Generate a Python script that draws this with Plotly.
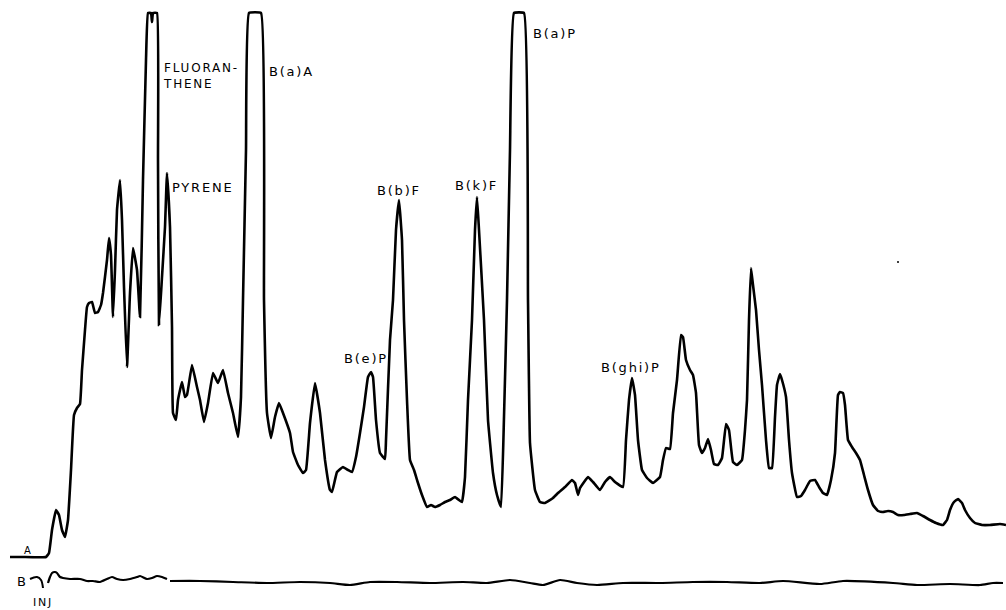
import plotly.graph_objects as go

# Trace A: retention position (arbitrary units) and detector response
time_a = [10, 22, 46, 49, 52, 56, 59, 62, 65, 68, 71, 74, 77, 80, 82, 85, 87, 89, 92, 95,
          98, 101, 103, 107, 109, 111, 113, 115, 117, 120, 122, 124, 127, 130, 133, 137, 140, 143, 146, 148,
          151, 152, 153, 157, 158, 159, 162, 165, 167, 170, 172, 173, 176, 178, 182, 185, 187, 192, 197, 200,
          204, 208, 213, 218, 223, 228, 233, 238, 241, 243, 246, 249, 261, 264, 267, 271, 275, 279, 283, 290,
          293, 298, 303, 306, 310, 315, 320, 325, 330, 332, 337, 343, 348, 352, 356, 360, 364, 368, 371, 373,
          376, 380, 385, 386, 390, 393, 396, 399, 402, 404, 407, 410, 414, 418, 422, 427, 431, 435, 440, 445,
          450, 455, 459, 462, 465, 468, 472, 475, 477, 479, 484, 488, 493, 497, 501, 504, 507, 510, 514, 524,
          528, 530, 535, 540, 545, 553, 558, 565, 572, 575, 578, 580, 588, 593, 600, 605, 610, 615, 623, 626,
          629, 632, 635, 638, 642, 647, 653, 660, 663, 666, 670, 673, 677, 681, 683, 686, 690, 693, 696, 699,
          702, 705, 708, 711, 714, 718, 722, 726, 729, 733, 737, 742, 745, 747, 749, 751, 753, 756, 759, 762,
          766, 769, 772, 775, 777, 780, 782, 786, 789, 792, 797, 801, 805, 810, 815, 819, 823, 827, 831, 835,
          838, 840, 843, 845, 848, 852, 856, 860, 864, 868, 873, 878, 883, 888, 893, 898, 904, 910, 917, 923,
          930, 936, 943, 947, 950, 954, 958, 962, 965, 970, 975, 982, 990, 1000, 1006]
resp_a = [43, 43, 43, 47, 70, 90, 85, 70, 63, 80, 130, 185, 192, 196, 230, 270, 293, 297, 298, 287,
          288, 295, 307, 340, 362, 345, 283, 330, 390, 420, 380, 313, 233, 307, 352, 330, 283, 420, 540, 587,
          587, 578, 587, 587, 440, 275, 323, 373, 427, 373, 273, 187, 180, 200, 218, 203, 205, 235, 213, 200,
          178, 197, 227, 217, 230, 207, 187, 163, 203, 300, 450, 587, 587, 300, 187, 162, 183, 197, 187, 167,
          148, 135, 127, 130, 177, 217, 187, 140, 110, 108, 128, 133, 130, 128, 143, 167, 193, 223, 228, 223,
          180, 147, 141, 160, 260, 300, 370, 400, 360, 280, 200, 140, 130, 117, 105, 93, 95, 93, 95, 98,
          100, 103, 100, 98, 123, 200, 280, 370, 403, 370, 280, 180, 127, 105, 93, 183, 300, 450, 587, 587,
          300, 157, 110, 98, 97, 102, 107, 113, 120, 117, 105, 112, 123, 118, 110, 118, 123, 118, 113, 160,
          200, 222, 205, 160, 130, 122, 117, 123, 140, 152, 151, 187, 220, 265, 263, 240, 230, 225, 207, 155,
          147, 152, 161, 150, 136, 135, 142, 176, 170, 138, 135, 140, 170, 200, 280, 332, 315, 290, 250, 215,
          160, 132, 132, 183, 215, 226, 220, 203, 160, 127, 103, 104, 110, 119, 120, 113, 107, 105, 120, 147,
          205, 208, 207, 195, 160, 153, 147, 140, 125, 110, 95, 89, 88, 89, 88, 85, 85, 86, 87, 84,
          80, 77, 75, 80, 90, 98, 101, 97, 90, 82, 77, 75, 75, 76, 75]

# Trace B: blank run
time_b = [48, 50, 52, 55, 57, 60, 63, 70, 80, 87, 93, 100, 107, 112, 117, 123, 130, 137, 140, 147,
          152, 157, 162, 167, None, 170, 200, 233, 267, 300, 330, 350, 370, 397, 430, 463, 487, 510, 530, 543,
          560, 577, 597, 623, 660, 693, 727, 760, 783, 820, 843, 893, 917, 950, 980, 993, 1003]
resp_b = [17, 23, 27, 28, 27, 23, 22, 21, 21, 19, 19, 18, 21, 23, 21, 20, 21, 23, 24, 21,
          22, 24, 23, 21, None, 19, 19, 18, 17, 18, 17, 15, 18, 18, 17, 18, 17, 20, 17, 15,
          20, 17, 15, 17, 17, 18, 18, 17, 19, 16, 19, 17, 15, 16, 15, 17, 17]

# Injection hook marker
hook_t = [30, 37, 41, 43]
hook_r = [21, 23, 20, 12]

# Peak labels
labels = ["FLUORAN-<br>THENE", "B(a)A", "PYRENE", "B(e)P", "B(b)F", "B(k)F", "B(a)P", "B(ghi)P", "A", "B", "INJ"]
label_t = [161, 267, 170, 342, 375, 453, 531, 599, 22, 15, 31]
label_r = [524, 529, 413, 242, 410, 415, 567, 233, 50, 19, -2]
label_size = [12, 13, 13, 13, 13, 13, 13, 13, 10, 13, 11]

fig = go.Figure()
fig.add_trace(go.Scatter(x=time_a, y=resp_a, mode="lines",
                         line=dict(color="black", width=2.6, shape="spline", smoothing=0.3),
                         hoverinfo="skip"))
fig.add_trace(go.Scatter(x=time_b, y=resp_b, mode="lines", connectgaps=False,
                         line=dict(color="black", width=2.2, shape="spline", smoothing=0.6),
                         hoverinfo="skip"))
fig.add_trace(go.Scatter(x=hook_t, y=hook_r, mode="lines",
                         line=dict(color="black", width=2, shape="spline"), hoverinfo="skip"))
fig.add_trace(go.Scatter(x=[898], y=[338], mode="markers",
                         marker=dict(color="black", size=2), hoverinfo="skip"))

for txt, t, r, s in zip(labels, label_t, label_r, label_size):
    fig.add_annotation(x=t, y=r, xref="x", yref="y", text=txt, showarrow=False,
                       xanchor="left", yanchor="middle", align="left",
                       font=dict(family="DejaVu Sans", size=s, color="black"))

fig.update_layout(
    width=1006, height=610,
    margin=dict(l=0, r=0, t=0, b=0),
    paper_bgcolor="white", plot_bgcolor="white",
    showlegend=False,
    xaxis=dict(range=[0, 1006], visible=False, fixedrange=True),
    yaxis=dict(range=[-10, 600], visible=False, fixedrange=True),
)

post = ("document.documentElement.style.margin='0';"
        "document.body.style.margin='0';document.body.style.overflow='hidden';"
        "document.querySelectorAll('.annotation-text').forEach(function(e){e.style.letterSpacing='1.8px';});")

fig.write_html("out.html", config={"displayModeBar": False}, post_script=post)
